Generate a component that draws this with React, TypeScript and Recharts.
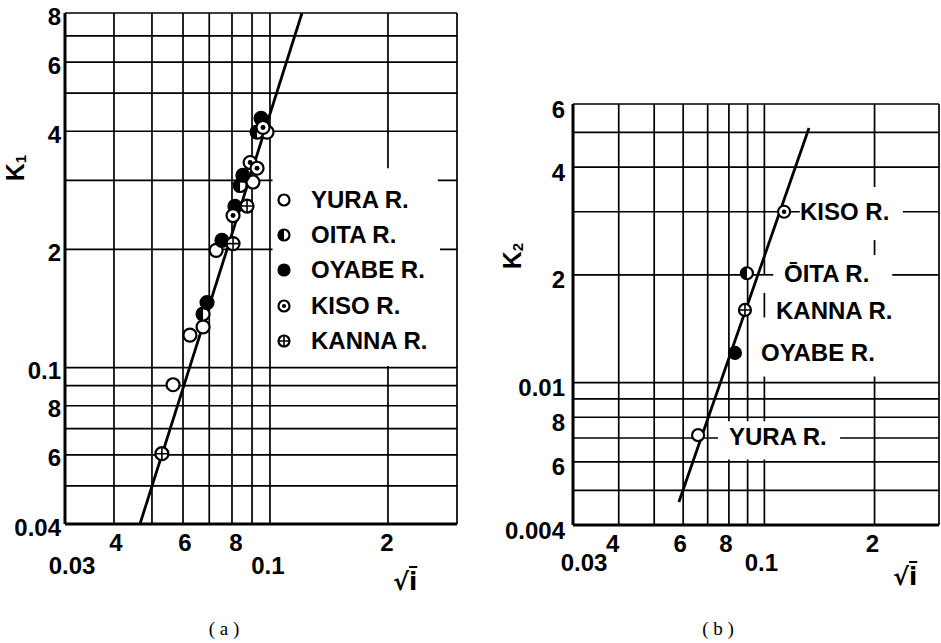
import React from 'react'
import {
  ComposedChart,
  Scatter,
  XAxis,
  YAxis,
  CartesianGrid,
  ReferenceArea,
  ReferenceLine,
  Legend,
} from 'recharts'

// ---- (a) K1 vs sqrt(i)
const yuraA = [
  { x: 0.0566, y: 0.0905 },
  { x: 0.0625, y: 0.121 },
  { x: 0.0675, y: 0.127 },
  { x: 0.0729, y: 0.199 },
  { x: 0.0905, y: 0.297 },
  { x: 0.0983, y: 0.398 },
]
const oitaA = [
  { x: 0.0675, y: 0.137 },
  { x: 0.0839, y: 0.291 },
  { x: 0.0927, y: 0.398 },
]
const oyabeA = [
  { x: 0.0691, y: 0.1465 },
  { x: 0.0754, y: 0.211 },
  { x: 0.0814, y: 0.2575 },
  { x: 0.0853, y: 0.309 },
  { x: 0.0949, y: 0.4315 },
]
const kisoA = [
  { x: 0.0805, y: 0.244 },
  { x: 0.089, y: 0.333 },
  { x: 0.0927, y: 0.322 },
  { x: 0.096, y: 0.409 },
]
const kannaA = [
  { x: 0.053, y: 0.0604 },
  { x: 0.0805, y: 0.207 },
  { x: 0.0874, y: 0.258 },
]
const fitA = [
  { x: 0.0466, y: 0.04 },
  { x: 0.1207, y: 0.8 },
]

// ---- (b) K2 vs sqrt(i)
const yuraB = [{ x: 0.0659, y: 0.00713 }]
const oyabeB = [{ x: 0.0831, y: 0.0121 }]
const kannaB = [{ x: 0.0885, y: 0.01595 }]
const oitaB = [{ x: 0.0896, y: 0.0202 }]
const kisoB = [{ x: 0.1132, y: 0.03 }]
const fitB = [
  { x: 0.0584, y: 0.00464 },
  { x: 0.1324, y: 0.0514 },
]

// grid ticks and printed labels
const xGrid = [0.03, 0.04, 0.05, 0.06, 0.07, 0.08, 0.09, 0.1, 0.2, 0.3]
const xLabelVals = [0.03, 0.04, 0.06, 0.08, 0.1, 0.2]
const xLabelTexts = ['0.03', '4', '6', '8', '0.1', '2']

const yGridA = [0.04, 0.05, 0.06, 0.07, 0.08, 0.09, 0.1, 0.2, 0.3, 0.4, 0.5, 0.6, 0.7, 0.8]
const yLabelValsA = [0.04, 0.06, 0.08, 0.1, 0.2, 0.4, 0.6, 0.8]
const yLabelTextsA = ['0.04', '6', '8', '0.1', '2', '4', '6', '8']

const yGridB = [0.004, 0.005, 0.006, 0.007, 0.008, 0.009, 0.01, 0.02, 0.03, 0.04, 0.05, 0.06]
const yLabelValsB = [0.004, 0.006, 0.008, 0.01, 0.02, 0.04, 0.06]
const yLabelTextsB = ['0.004', '6', '8', '0.01', '2', '4', '6']

const FONT = "'Liberation Sans', Arial, sans-serif"
const tickStyle = { fontFamily: FONT, fontWeight: 700, fontSize: 24, fill: '#000' }

type Kind = 'open' | 'half' | 'filled' | 'dot' | 'plus'

const Marker = ({ cx, cy, kind, r = 6.5 }: { cx?: number; cy?: number; kind: Kind; r?: number }) => {
  if (cx == null || cy == null) return <g />
  return (
    <g>
      <circle cx={cx} cy={cy} r={r} fill={kind === 'filled' ? '#000' : '#fff'} stroke="#000" strokeWidth={2.2} />
      {kind === 'half' && <path d={`M${cx},${cy - r} A${r},${r} 0 0 0 ${cx},${cy + r} Z`} fill="#000" />}
      {kind === 'dot' && <circle cx={cx} cy={cy} r={r * 0.38} fill="#000" />}
      {kind === 'plus' && (
        <path d={`M${cx - r},${cy}H${cx + r}M${cx},${cy - r}V${cy + r}`} stroke="#000" strokeWidth={1.6} />
      )}
    </g>
  )
}

const seriesA: { name: string; kind: Kind; data: { x: number; y: number }[] }[] = [
  { name: 'YURA R.', kind: 'open', data: yuraA },
  { name: 'OITA R.', kind: 'half', data: oitaA },
  { name: 'OYABE R.', kind: 'filled', data: oyabeA },
  { name: 'KISO R.', kind: 'dot', data: kisoA },
  { name: 'KANNA R.', kind: 'plus', data: kannaA },
]

const seriesB: { name: string; kind: Kind; data: { x: number; y: number }[] }[] = [
  { name: 'YURA R.', kind: 'open', data: yuraB },
  { name: 'OYABE R.', kind: 'filled', data: oyabeB },
  { name: 'KANNA R.', kind: 'plus', data: kannaB },
  { name: 'ŌITA R.', kind: 'half', data: oitaB },
  { name: 'KISO R.', kind: 'dot', data: kisoB },
]

const XTick = (props: any) => {
  const { x, y, payload, nudge, low } = props
  const i = xLabelVals.indexOf(payload.value)
  if (i < 0) return <g />
  const t = xLabelTexts[i]
  const dy = t.startsWith('0') ? low : 18
  return (
    <text x={x + nudge[i]} y={y + dy} textAnchor="middle" dominantBaseline="central" style={tickStyle}>
      {t}
    </text>
  )
}

const YTick = (props: any) => {
  const { x, y, payload, vals, texts, dx, dy } = props
  const i = vals.indexOf(payload.value)
  if (i < 0) return <g />
  return (
    <text x={x + dx} y={y + dy} textAnchor="end" dominantBaseline="central" style={tickStyle}>
      {texts[i]}
    </text>
  )
}

const LegendBox = () => (
  <div style={{ background: '#fff' }}>
    {seriesA.map((s) => (
      <div key={s.name} style={{ display: 'flex', alignItems: 'center', height: 35.3 }}>
        <svg width={20} height={20} style={{ flex: 'none' }}>
          <Marker cx={10} cy={10} kind={s.kind} r={5.5} />
        </svg>
        <span style={{ marginLeft: 17, fontFamily: FONT, fontWeight: 700, fontSize: 24, color: '#000', whiteSpace: 'pre' }}>
          {s.name}
        </span>
      </div>
    ))}
  </div>
)

const axisLine = { stroke: '#000', strokeWidth: 3 }
const seg = { stroke: '#000', strokeWidth: 1.7, ifOverflow: 'visible' as const }

const PanelA = () => (
  <ComposedChart width={467} height={600} margin={{ top: 13, right: 10, left: 0, bottom: 0 }}>
    <CartesianGrid stroke="#000" strokeWidth={1.7} />
    <XAxis
      type="number"
      dataKey="x"
      scale="log"
      domain={[0.03, 0.3]}
      allowDataOverflow
      ticks={xGrid}
      interval={0}
      tickSize={0}
      tickMargin={0}
      height={76}
      axisLine={axisLine}
      tick={(p: any) => <XTick {...p} nudge={[7, 2, 2, 4, -2, -1]} low={41} />}
    />
    <YAxis
      type="number"
      dataKey="y"
      scale="log"
      domain={[0.04, 0.8]}
      allowDataOverflow
      ticks={yGridA}
      interval={0}
      tickSize={0}
      tickMargin={0}
      width={65}
      axisLine={axisLine}
      tick={(p: any) => <YTick {...p} vals={yLabelValsA} texts={yLabelTextsA} dx={-4} dy={3} />}
    />
    <ReferenceArea x1={0.1015} x2={0.268} y1={0.101} y2={0.322} fill="#fff" fillOpacity={1} stroke="none" ifOverflow="visible" />
    <Legend
      content={<LegendBox />}
      layout="vertical"
      align="center"
      verticalAlign="middle"
      wrapperStyle={{ left: 274, top: 182, width: 166, margin: 0 }}
    />
    <Scatter data={fitA} line={{ stroke: '#000', strokeWidth: 2.8 }} shape={() => <g />} legendType="none" isAnimationActive={false} />
    {seriesA.map((s) => (
      <Scatter
        key={s.name}
        name={s.name}
        data={s.data}
        shape={(p: any) => <Marker cx={p.cx} cy={p.cy} kind={s.kind} />}
        isAnimationActive={false}
      />
    ))}
  </ComposedChart>
)

const PanelB = () => (
  <ComposedChart width={449} height={600} margin={{ top: 104, right: 10, left: 0, bottom: 0 }}>
    <CartesianGrid stroke="#000" strokeWidth={1.7} />
    <XAxis
      type="number"
      dataKey="x"
      scale="log"
      domain={[0.03, 0.3]}
      allowDataOverflow
      ticks={xGrid}
      interval={0}
      tickSize={0}
      tickMargin={0}
      height={75}
      axisLine={axisLine}
      tick={(p: any) => <XTick {...p} nudge={[11, -6, -3, -3, -3, -2]} low={37} />}
    />
    <YAxis
      type="number"
      dataKey="y"
      scale="log"
      domain={[0.004, 0.06]}
      allowDataOverflow
      ticks={yGridB}
      interval={0}
      tickSize={0}
      tickMargin={0}
      width={73}
      axisLine={axisLine}
      tick={(p: any) => <YTick {...p} vals={yLabelValsB} texts={yLabelTextsB} dx={-8} dy={5} />}
    />
    {/* blank panels behind the river names */}
    <ReferenceArea x1={0.095} x2={0.298} y1={0.0104} y2={0.0352} fill="#fff" fillOpacity={1} stroke="none" ifOverflow="visible" />
    <ReferenceArea x1={0.0747} x2={0.161} y1={0.0061} y2={0.0078} fill="#fff" fillOpacity={1} stroke="none" ifOverflow="visible" />
    {/* grid pieces and leaders left over in the blank panel */}
    <ReferenceLine segment={[{ x: 0.095, y: 0.03 }, { x: 0.125, y: 0.03 }]} {...seg} />
    <ReferenceLine segment={[{ x: 0.239, y: 0.03 }, { x: 0.3, y: 0.03 }]} {...seg} />
    <ReferenceLine segment={[{ x: 0.095, y: 0.02 }, { x: 0.1057, y: 0.02 }]} {...seg} />
    <ReferenceLine segment={[{ x: 0.2235, y: 0.02 }, { x: 0.3, y: 0.02 }]} {...seg} />
    <ReferenceLine segment={[{ x: 0.1, y: 0.02 }, { x: 0.1, y: 0.0352 }]} {...seg} />
    <ReferenceLine segment={[{ x: 0.1, y: 0.0152 }, { x: 0.1, y: 0.0178 }]} {...seg} />
    <ReferenceLine segment={[{ x: 0.2, y: 0.0227 }, { x: 0.2, y: 0.025 }]} {...seg} />
    <Scatter data={fitB} line={{ stroke: '#000', strokeWidth: 2.8 }} shape={() => <g />} legendType="none" isAnimationActive={false} />
    {seriesB.map((s) => (
      <Scatter
        key={s.name}
        name={s.name}
        data={s.data}
        shape={(p: any) => <Marker cx={p.cx} cy={p.cy} kind={s.kind} r={6} />}
        isAnimationActive={false}
      />
    ))}
  </ComposedChart>
)

const abs = (left: number, top: number, extra: React.CSSProperties = {}): React.CSSProperties => ({
  position: 'absolute',
  left,
  top,
  transform: 'translateY(-50%)',
  lineHeight: 1,
  whiteSpace: 'pre',
  fontFamily: FONT,
  fontWeight: 700,
  fontSize: 24,
  color: '#000',
  ...extra,
})

// vertical axis name, reading bottom to top
const vert = (left: number, top: number): React.CSSProperties =>
  abs(left, top, {
    writingMode: 'vertical-rl',
    transform: 'translate(0, -50%) rotate(180deg)',
    fontSize: 25,
  })

const SqrtI = () => (
  <span style={{ fontFamily: "'DejaVu Sans', sans-serif" }}>
    √<span style={{ textDecoration: 'overline' }}>i</span>
  </span>
)

export default function App() {
  return (
    <div style={{ position: 'absolute', left: 0, top: 0, width: 941, height: 643, background: '#fff', overflow: 'hidden' }}>
      <div style={{ position: 'absolute', left: 0, top: 0 }}>
        <PanelA />
      </div>
      <div style={{ position: 'absolute', left: 500, top: 0 }}>
        <PanelB />
      </div>

      {/* axis names */}
      <div style={vert(3, 168)}>
        K<sub style={{ fontSize: 15 }}>1</sub>
      </div>
      <div style={vert(500, 256)}>
        K<sub style={{ fontSize: 15 }}>2</sub>
      </div>
      <div style={abs(393, 582, { fontSize: 24 })}>
        <SqrtI />
      </div>
      <div style={abs(893, 577, { fontSize: 24 })}>
        <SqrtI />
      </div>

      {/* river names in (b) */}
      <div style={abs(800, 212)}>KISO R.</div>
      <div style={abs(784, 274)}>ŌITA R.</div>
      <div style={abs(776, 311)}>KANNA R.</div>
      <div style={abs(761, 353)}>OYABE R.</div>
      <div style={abs(729, 437)}>YURA R.</div>

      {/* captions */}
      <div style={abs(224, 628, { transform: 'translate(-50%, -50%)', fontFamily: "'Liberation Serif', serif", fontWeight: 400, fontSize: 19 })}>
        ( a )
      </div>
      <div style={abs(718, 628, { transform: 'translate(-50%, -50%)', fontFamily: "'Liberation Serif', serif", fontWeight: 400, fontSize: 19 })}>
        ( b )
      </div>
    </div>
  )
}
